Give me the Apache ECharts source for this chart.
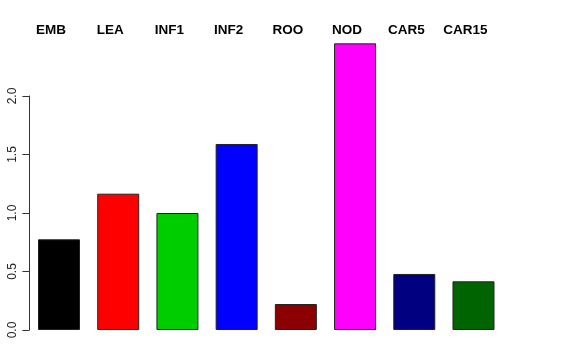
<!DOCTYPE html>
<html>
<head>
<meta charset="utf-8">
<script src="https://cdn.jsdelivr.net/npm/echarts@6/dist/echarts.min.js"></script>
<style>
html,body{margin:0;padding:0;background:#fff;}
#chart{width:576px;height:360px;}
</style>
</head>
<body>
<div id="chart"></div>
<script>
var categories = ['EMB', 'LEA', 'INF1', 'INF2', 'ROO', 'NOD', 'CAR5', 'CAR15'];
var values = [0.775, 1.165, 1.0, 1.59, 0.222, 2.45, 0.479, 0.416];
var barColors = ['#000000', '#FF0000', '#00CD00', '#0000FF', '#8B0000', '#FF00FF', '#000080', '#006400'];
var yTicks = [0, 0.5, 1.0, 1.5, 2.0];

var chart = echarts.init(document.getElementById('chart'), null, {renderer: 'canvas'});

var pxPerUnit = 117;
var baseY = 330;
var gridLeft = 29.4;
var gridWidth = 473.7;

var option = {
  animation: false,
  backgroundColor: '#ffffff',
  grid: [
    {left: gridLeft, width: gridWidth, top: baseY - 2.0 * pxPerUnit, height: 2.0 * pxPerUnit},
    {left: gridLeft, width: gridWidth, top: baseY - 2.5 * pxPerUnit, height: 2.5 * pxPerUnit}
  ],
  xAxis: [
    {gridIndex: 0, type: 'value', show: false},
    {
      gridIndex: 1, type: 'category', data: categories, position: 'top',
      axisLine: {show: false}, axisTick: {show: false}, splitLine: {show: false},
      axisLabel: {
        show: true, fontFamily: 'Liberation Sans, Arial, sans-serif', fontWeight: 'bold',
        fontSize: 13.5, color: '#000', margin: 0, padding: [0, 16, 0, 0], interval: 0
      }
    }
  ],
  yAxis: [
    {
      gridIndex: 0, type: 'value', min: yTicks[0], max: yTicks[yTicks.length - 1], interval: 0.5,
      axisLine: {show: true, lineStyle: {color: '#333', width: 1}},
      axisTick: {show: true, length: 7, lineStyle: {color: '#333', width: 1}},
      splitLine: {show: false},
      axisLabel: {
        rotate: 90, margin: 11, fontSize: 12, color: '#222',
        fontFamily: 'Liberation Sans, Arial, sans-serif',
        formatter: function (v) { return v.toFixed(1); }
      }
    },
    {gridIndex: 1, type: 'value', min: 0, max: 2.5, show: false}
  ],
  series: [
    {
      type: 'bar', xAxisIndex: 1, yAxisIndex: 1, barWidth: 42,
      data: values.map(function (v, i) {
        return {value: v, itemStyle: {color: barColors[i], borderColor: '#222', borderWidth: 1}};
      })
    }
  ]
};
chart.setOption(option);
</script>
</body>
</html>
